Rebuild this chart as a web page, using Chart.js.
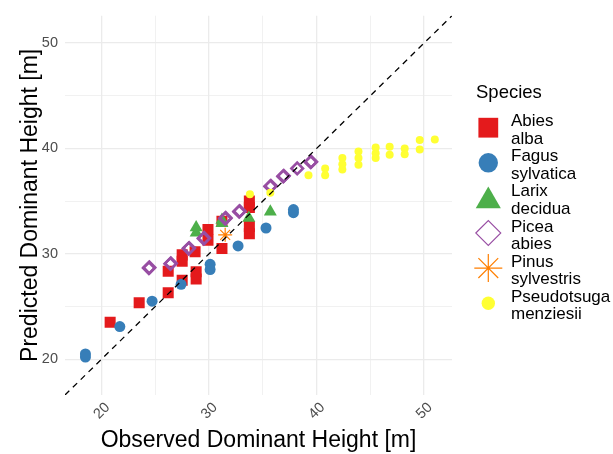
<!DOCTYPE html>
<html>
<head>
<meta charset="utf-8">
<script src="https://cdn.jsdelivr.net/npm/chart.js"></script>
<style>
  html, body { margin: 0; padding: 0; background: #fff; }
  #wrap { width: 613px; height: 454px; }
</style>
</head>
<body>
<div id="wrap"><canvas id="heightChart" width="613" height="454"></canvas></div>
<script>
// Observed vs predicted dominant height per species
const abiesObs  = [20.8, 23.5, 26.2, 26.2, 27.5, 27.5, 27.5, 28.7, 28.8, 28.8, 29.9, 29.9, 31.2, 31.2, 33.75, 33.75, 33.75, 33.75];
const abiesPred = [23.5, 25.35, 26.3, 28.35, 29.9, 29.3, 27.5, 30.2, 28.3, 27.6, 32.3, 31.3, 30.5, 33.1, 32.6, 31.9, 35.0, 34.4];

const fagusObs  = [18.5, 18.5, 21.7, 24.7, 27.4, 30.1, 30.1, 32.7, 35.3, 37.85, 37.85];
const fagusPred = [20.2, 20.5, 23.1, 25.5, 27.1, 29.0, 28.5, 30.75, 32.45, 33.9, 34.2];

const larixObs  = [28.8, 28.8, 31.2, 31.2, 33.7, 35.7];
const larixPred = [32.0, 32.5, 32.9, 33.2, 33.4, 34.0];

const piceaObs  = [24.4, 24.45, 26.4, 26.45, 28.1, 28.15, 29.5, 29.55, 31.5, 31.55, 32.8, 32.85, 35.7, 35.75, 36.9, 36.95, 38.2, 39.45, 39.5];
const piceaPred = [28.65, 28.7, 29.05, 29.1, 30.5, 30.55, 31.45, 31.5, 33.35, 33.4, 34.0, 34.05, 36.4, 36.45, 37.35, 37.4, 38.1, 38.7, 38.75];

const pinusObs  = [31.5];
const pinusPred = [31.8];

const pseudoObs  = [33.8, 35.7, 39.25, 40.8, 40.8, 42.4, 42.4, 42.4, 43.9, 43.9, 43.9, 45.5, 45.5, 45.5, 46.8, 46.8, 48.2, 48.2, 49.6, 49.6, 51.0];
const pseudoPred = [35.65, 35.8, 37.45, 38.1, 37.45, 39.1, 38.5, 38.0, 39.7, 39.1, 38.45, 40.1, 39.55, 39.1, 40.15, 39.4, 40.0, 39.45, 40.8, 39.9, 40.85];

const speciesNames = [['Abies', 'alba'], ['Fagus', 'sylvatica'], ['Larix', 'decidua'], ['Picea', 'abies'], ['Pinus', 'sylvestris'], ['Pseudotsuga', 'menziesii']];
const axisMin = 16.6;
const axisMax = 52.6;
const tickValues = [20, 25, 30, 35, 40, 45, 50];

function toPoints(xs, ys) {
    return xs.map((x, i) => ({ x: x, y: ys[i] }));
}

const FONT = '"Liberation Sans", Arial, sans-serif';

// legend drawn like ggplot's right-side guide, with two-line labels
const speciesLegend = {
    id: 'speciesLegend',
    afterDraw(chart) {
        const ctx = chart.ctx;
        ctx.save();
        ctx.fillStyle = '#000';
        ctx.font = '18.5px ' + FONT;
        ctx.textBaseline = 'alphabetic';
        ctx.fillText('Species', 476, 98);
        ctx.font = '17px ' + FONT;
        chart.data.datasets.forEach((ds, i) => {
            if (!ds.legendRadius) return;
            const cy = 127.7 + (i - 1) * 35.1;
            ctx.save();
            ctx.fillStyle = ds.backgroundColor;
            ctx.strokeStyle = ds.borderColor;
            ctx.lineWidth = ds.legendBorder;
            Chart.helpers.drawPoint(ctx, { pointStyle: ds.pointStyle, radius: ds.legendRadius, borderWidth: ds.legendBorder }, 488.3, cy + (ds.legendShift || 0));
            ctx.restore();
            ctx.fillStyle = '#000';
            ctx.fillText(ds.label[0], 511, cy - 1.5);
            ctx.fillText(ds.label[1], 511, cy + 16);
        });
        ctx.restore();
    }
};

function gridWidth(c) {
    return c.tick && c.tick.value % 10 === 0 ? 1.3 : 0.7;
}

document.addEventListener('DOMContentLoaded', function() {
    const ctx = document.getElementById('heightChart').getContext('2d');
    new Chart(ctx, {
        type: 'scatter',
        data: {
            datasets: [
                {
                    type: 'line',
                    label: ['1:1'],
                    data: [{ x: axisMin, y: axisMin }, { x: axisMax, y: axisMax }],
                    borderColor: '#000',
                    borderWidth: 1.3,
                    borderDash: [6, 5],
                    pointRadius: 0,
                    order: 0
                },
                { label: speciesNames[0], data: toPoints(abiesObs, abiesPred), pointStyle: 'rect', pointRadius: 7.8, backgroundColor: '#E41A1C', borderColor: '#E41A1C', borderWidth: 0, legendRadius: 14, legendBorder: 0, order: 6 },
                { label: speciesNames[1], data: toPoints(fagusObs, fagusPred), pointStyle: 'circle', pointRadius: 5.5, backgroundColor: '#377EB8', borderColor: '#377EB8', borderWidth: 0, legendRadius: 9.7, legendBorder: 0, order: 5 },
                { label: speciesNames[2], data: toPoints(larixObs, larixPred), pointStyle: 'triangle', pointRadius: 7.5, backgroundColor: '#4DAF4A', borderColor: '#4DAF4A', borderWidth: 0, legendRadius: 14.5, legendBorder: 0, legendShift: 3, order: 4 },
                { label: speciesNames[3], data: toPoints(piceaObs, piceaPred), pointStyle: 'rectRot', pointRadius: 5.8, backgroundColor: 'rgba(0,0,0,0)', borderColor: '#984EA3', borderWidth: 2.6, legendRadius: 12.5, legendBorder: 1.1, order: 3 },
                { label: speciesNames[4], data: toPoints(pinusObs, pinusPred), pointStyle: 'star', pointRadius: 7, backgroundColor: '#FF7F00', borderColor: '#FF7F00', borderWidth: 1.2, legendRadius: 14, legendBorder: 1.2, order: 2 },
                { label: speciesNames[5], data: toPoints(pseudoObs, pseudoPred), pointStyle: 'circle', pointRadius: 4, backgroundColor: '#FFFF33', borderColor: '#FFFF33', borderWidth: 0, legendRadius: 6.7, legendBorder: 0, order: 1 }
            ]
        },
        options: {
            responsive: false,
            animation: false,
            layout: { padding: { top: 10, right: 161, left: 0, bottom: 0 } },
            plugins: {
                legend: { display: false },
                tooltip: { enabled: false }
            },
            scales: {
                x: {
                    type: 'linear',
                    min: axisMin,
                    max: axisMax,
                    afterBuildTicks: s => { s.ticks = tickValues.map(v => ({ value: v })); },
                    afterFit: s => { s.height = 59; },
                    border: { display: false },
                    grid: { color: '#EBEBEB', lineWidth: gridWidth, drawTicks: false },
                    ticks: {
                        padding: 4,
                        labelOffset: 6,
                        maxRotation: 45,
                        minRotation: 45,
                        color: '#4D4D4D',
                        font: { family: FONT, size: 14.5 },
                        callback: v => (v % 10 === 0 ? String(v) : '')
                    },
                    title: {
                        display: true,
                        text: 'Observed Dominant Height [m]',
                        color: '#000',
                        font: { family: FONT, size: 23 },
                        padding: { top: 0, bottom: 0 }
                    }
                },
                y: {
                    type: 'linear',
                    min: axisMin,
                    max: axisMax,
                    afterBuildTicks: s => { s.ticks = tickValues.map(v => ({ value: v })); },
                    afterFit: s => { s.width = 65; },
                    border: { display: false },
                    grid: { color: '#EBEBEB', lineWidth: gridWidth, drawTicks: false },
                    ticks: {
                        padding: 7,
                        color: '#4D4D4D',
                        font: { family: FONT, size: 14.5 },
                        callback: v => (v % 10 === 0 ? String(v) : '')
                    },
                    title: {
                        display: true,
                        text: 'Predicted Dominant Height [m]',
                        color: '#000',
                        font: { family: FONT, size: 23 },
                        padding: { top: 17, bottom: 0 }
                    }
                }
            }
        },
        plugins: [speciesLegend]
    });
});
</script>
</body>
</html>
